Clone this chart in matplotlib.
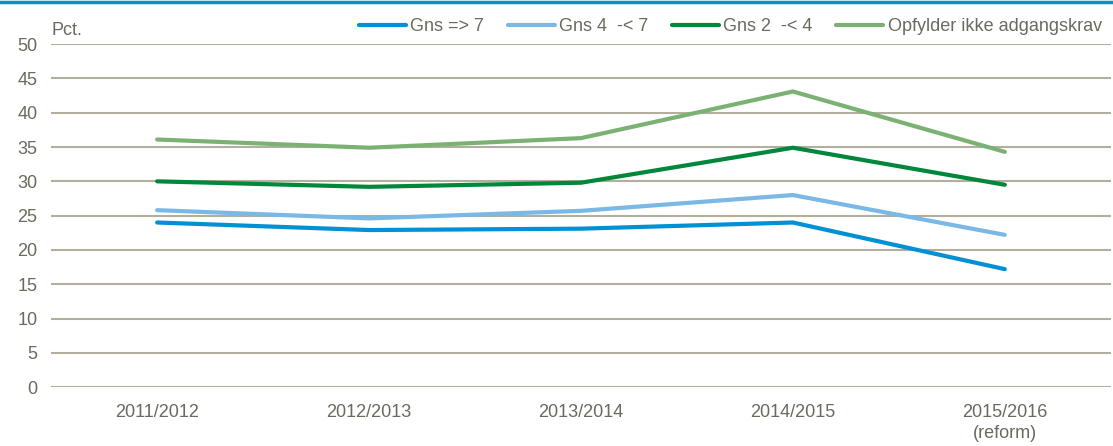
import matplotlib.pyplot as plt
from matplotlib.lines import Line2D

# Data (pct.)
years = ['2011/2012', '2012/2013', '2013/2014', '2014/2015', '2015/2016\n(reform)']
gns_7 = [24.0, 22.9, 23.1, 24.0, 17.2]
gns_4_7 = [25.8, 24.6, 25.7, 28.0, 22.2]
gns_2_4 = [30.0, 29.2, 29.8, 34.9, 29.5]
opfylder_ikke = [36.1, 34.9, 36.3, 43.1, 34.3]

series_names = ['Gns => 7', 'Gns 4  -< 7', 'Gns 2  -< 4', 'Opfylder ikke adgangskrav']
colors = ['#0090d4', '#7ab8e6', '#00873c', '#7bb274']

txt = '#6b6a5e'
grid_col = '#b3af9f'
plt.rcParams['font.family'] = ['Liberation Sans', 'DejaVu Sans']

fig = plt.figure(figsize=(11.13, 4.46), dpi=100)
ax = fig.add_axes([0.046, 0.132, 0.952, 0.769])

x = range(len(years))
for vals, name, c in zip([gns_7, gns_4_7, gns_2_4, opfylder_ikke], series_names, colors):
    ax.plot(x, vals, color=c, lw=3, label=name, solid_capstyle='round', zorder=3)

ax.set_xlim(-0.5, len(years) - 0.5)
ax.set_ylim(0, 50)
ax.set_yticks(range(0, 51, 5))
ax.set_xticks(list(x))
ax.set_xticklabels(years, linespacing=1.35)
ax.yaxis.grid(True, color=grid_col, lw=1.5)
ax.set_axisbelow(True)
for s in ax.spines.values():
    s.set_visible(False)
ax.tick_params(length=0, colors=txt, labelsize=13)
ax.tick_params(axis='x', pad=12)
ax.tick_params(axis='y', pad=10)

ax.text(0.0, 1.015, 'Pct.', transform=ax.transAxes, color=txt, fontsize=13,
        ha='left', va='bottom')

leg = ax.legend(loc='lower right', bbox_to_anchor=(1.0, 1.0), ncol=4, frameon=False,
                fontsize=13, handlelength=2.6, handletextpad=0.25, columnspacing=1.3,
                borderaxespad=0.1)
for t in leg.get_texts():
    t.set_color(txt)

# blue band along the top edge
fig.add_artist(Line2D([0, 1], [0.996, 0.996], transform=fig.transFigure,
                      color='#0090d4', lw=2.5))

fig.savefig('out.png', dpi=100)
